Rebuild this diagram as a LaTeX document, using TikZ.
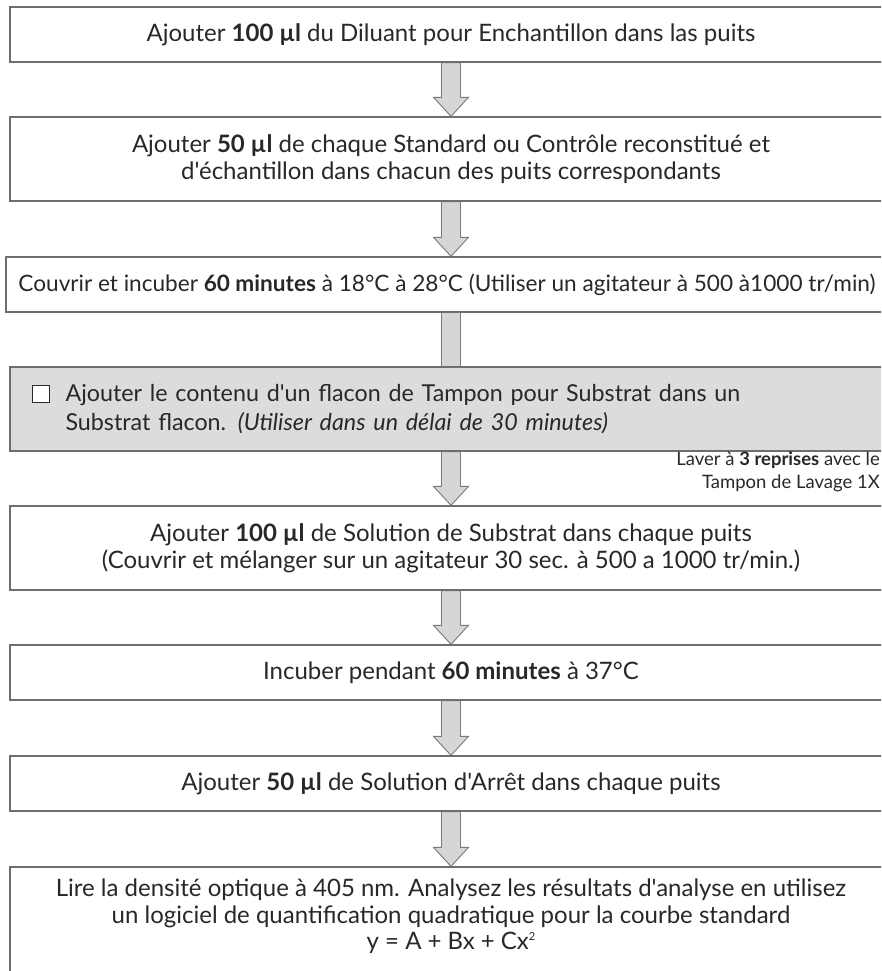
\documentclass[tikz,border=0pt]{standalone}
\usepackage{fontspec}
\setmainfont{Lato}[Ligatures=TeXOff]
\usetikzlibrary{calc,backgrounds}

\definecolor{boxline}{HTML}{6E6E6E}
\definecolor{arrowline}{HTML}{7A7A7A}
\definecolor{arrowfill}{HTML}{D6D6D6}
\definecolor{stepgrey}{HTML}{DCDCDC}
\definecolor{inkcol}{HTML}{2A2728}

\newcommand{\sqr}{\raisebox{0.8ex}{\fontsize{11}{11}\selectfont 2}}

\tikzset{
  stepbox/.style={draw=boxline, line width=1.3pt, fill=white, minimum width=882pt,
    inner sep=0pt, align=center, text=inkcol, font=\fontsize{24}{27}\selectfont},
  fatarrow/.style={draw=arrowline, fill=arrowfill, line width=0.9pt,
    to path={let \p1=(\tikztostart), \p2=(\tikztotarget) in
      (\x1-9.5pt,\y1) -- (\x1+9.5pt,\y1) -- (\x1+9.5pt,\y2+19pt) -- (\x1+17.5pt,\y2+19pt)
      -- (\x1,\y2) -- (\x1-17.5pt,\y2+19pt) -- (\x1-9.5pt,\y2+19pt) -- cycle}},
  shaft/.style={draw=arrowline, fill=arrowfill, line width=0.9pt,
    to path={let \p1=(\tikztostart), \p2=(\tikztotarget) in
      (\x1-9.5pt,\y1) rectangle (\x1+9.5pt,\y2)}},
}

\begin{document}
\begin{tikzpicture}[x=1pt, y=-1pt]
  \useasboundingbox (0,0) rectangle (881,971);
  \clip (0,0) rectangle (881,971);

  % Steps
  \node[stepbox, minimum height=55pt] (b1) at (451,34.5)
    {Ajouter \textbf{100 µl} du Diluant pour Enchantillon dans las puits};
  \node[stepbox, minimum height=84pt] (b2) at (451,159)
    {Ajouter \textbf{50 µl} de chaque Standard ou Contrôle reconstitué et\\
     d'échantillon dans chacun des puits correspondants};
  \node[stepbox, minimum height=55pt, font=\fontsize{22.6}{27}\selectfont] (b3) at (447,284.5)
    {Couvrir et incuber \textbf{60 minutes} à 18°C à 28°C (Utiliser un agitateur à 500 à1000 tr/min)};

  % Substrate preparation
  \node[stepbox, fill=stepgrey, minimum height=84pt, text width=771pt, inner xsep=55.5pt,
    align=left, font=\fontsize{23.3}{29}\selectfont] (sub) at (451,409)
    {Ajouter le contenu d'un flacon de Tampon pour Substrat dans un\\
     Substrat flacon. \textit{(Utiliser dans un délai de 30 minutes)}};
  \node[draw=inkcol, line width=1.5pt, fill=white, minimum size=17pt, inner sep=0pt] (chk) at (41,394) {};

  \node[anchor=north east, align=right, inner sep=0pt, text=inkcol,
    font=\fontsize{18.5}{23}\selectfont] (wash) at (880,452)
    {Laver à \textbf{3 reprises} avec le\\Tampon de Lavage 1X};

  \node[stepbox, minimum height=84pt] (b4) at (451,548)
    {Ajouter \textbf{100 µl} de Solution de Substrat dans chaque puits\\
     (Couvrir et mélanger sur un agitateur 30 sec. à 500 a 1000 tr/min.)};
  \node[stepbox, minimum height=55pt] (b5) at (451,672.5)
    {Incuber pendant \textbf{60 minutes} à 37°C};
  \node[stepbox, minimum height=55pt] (b6) at (451,783.5)
    {Ajouter \textbf{50 µl} de Solution d'Arrêt dans chaque puits};

  % Reading
  \node[stepbox, minimum height=150pt] (b7) at (451,942) {};
  \node[align=center, inner sep=0pt, text=inkcol, font=\fontsize{24}{26.5}\selectfont] (t7) at (451,916.5)
    {Lire la densité optique à 405 nm. Analysez les résultats d'analyse en utilisez\\
     un logiciel de quantification quadratique pour la courbe standard\\
     y = A + Bx + Cx\sqr};

  % Arrows
  \begin{scope}[on background layer]
    \draw[fatarrow] (b1.south) to (b2.north);
    \draw[fatarrow] (b2.south) to (b3.north -| b2.south);
    \draw[shaft] (b3.south -| b2.south) to (sub.north);
    \draw[fatarrow] (sub.south) to (b4.north);
    \draw[fatarrow] (b4.south) to (b5.north);
    \draw[fatarrow] (b5.south) to (b6.north);
    \draw[fatarrow] (b6.south) to (b7.north);
  \end{scope}
\end{tikzpicture}
\end{document}
